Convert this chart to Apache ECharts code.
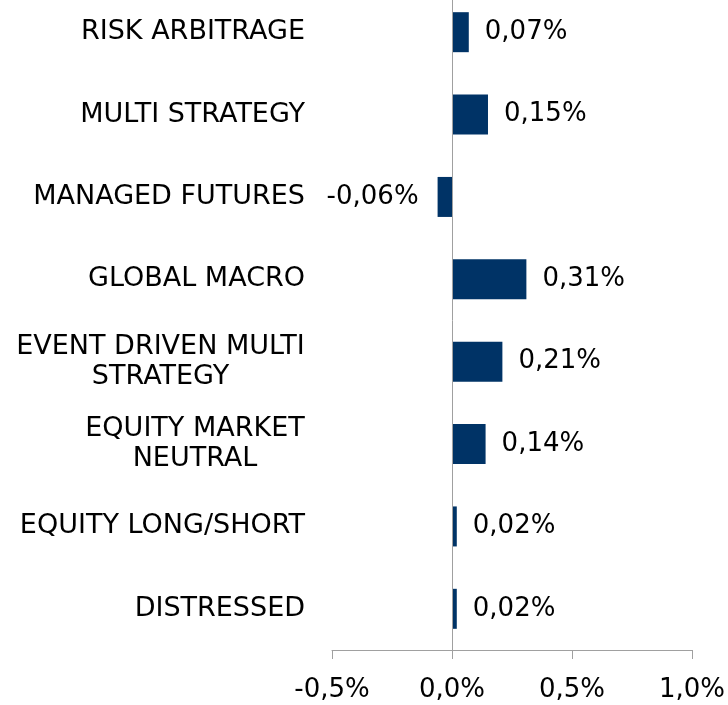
<!DOCTYPE html>
<html>
<head>
<meta charset="utf-8">
<script src="https://cdn.jsdelivr.net/npm/echarts@6/dist/echarts.min.js"></script>
<style>
  html, body { margin: 0; padding: 0; background: #fff; overflow: hidden; }
  /* the plot starts a little above the page edge, so the chart box is shifted up */
  #chart { width: 728px; height: 714px; margin-top: -9px; }
</style>
</head>
<body>
<div id="chart"></div>
<script>
// categories bottom -> top (category axis starts at the bottom)
const categories = [
  "DISTRESSED",
  "EQUITY LONG/SHORT",
  "EQUITY MARKET\nNEUTRAL",
  "EVENT DRIVEN MULTI\nSTRATEGY",
  "GLOBAL MACRO",
  "MANAGED FUTURES",
  "MULTI STRATEGY",
  "RISK ARBITRAGE"
];
const values = [0.02, 0.02, 0.14, 0.21, 0.31, -0.06, 0.15, 0.07];
const xTicks = [-0.5, 0.0, 0.5, 1.0];

const FONT = "DejaVu Sans";
const FS = 26;      // numbers
const FS_CAT = 27;  // category names

// two-line labels: second line centred under the first
const ctx = document.createElement("canvas").getContext("2d");
ctx.font = FS_CAT + "px '" + FONT + "'";
const rich = {};
categories.forEach((c, i) => {
  if (c.indexOf("\n") >= 0) {
    const w = Math.max(...c.split("\n").map(s => ctx.measureText(s).width));
    rich["c" + i] = { width: Math.ceil(w), align: "center", fontSize: FS_CAT, fontFamily: FONT, lineHeight: 30, color: "#000" };
  }
});

const pct = (v, d) => v.toFixed(d).replace(".", ",") + "%";

let myChart = echarts.init(document.getElementById("chart"));
myChart.setOption({
  animation: false,
  grid: { left: 332, right: 36, top: 0, bottom: 55 },
  xAxis: {
    type: "value",
    min: xTicks[0],
    max: xTicks[xTicks.length - 1],
    interval: 0.5,
    splitLine: { show: false },
    axisLine: { show: true, lineStyle: { color: "#a0a0a0", width: 1 } },
    axisTick: { show: true, length: 9, lineStyle: { color: "#a0a0a0" } },
    axisLabel: {
      color: "#000",
      fontFamily: FONT,
      fontSize: FS,
      margin: 27,
      formatter: v => pct(v, 1)
    }
  },
  yAxis: {
    type: "category",
    data: categories,
    axisLine: { show: false, onZero: false },
    axisTick: { show: false },
    axisLabel: {
      color: "#000",
      fontFamily: FONT,
      fontSize: FS_CAT,
      lineHeight: 30,
      margin: 27,
      rich: rich,
      formatter: (v, i) => {
        if (v.indexOf("\n") < 0) return v;
        const key = "c" + categories.indexOf(v);
        return v.split("\n").map(s => "{" + key + "|" + s + "}").join("\n");
      }
    }
  },
  series: [
    {
      type: "bar",
      barWidth: 40,
      itemStyle: { color: "#003366" },
      data: values.map(v => ({
        value: v,
        label: { position: v < 0 ? "left" : "right", distance: v < 0 ? 19 : 16 }
      })),
      label: {
        show: true,
        color: "#000",
        fontFamily: FONT,
        fontSize: FS,
        formatter: p => pct(p.value, 2)
      },
      markLine: {
        silent: true,
        symbol: "none",
        label: { show: false },
        lineStyle: { color: "#a0a0a0", width: 1, type: "solid" },
        data: [{ xAxis: 0 }]
      }
    }
  ]
});
</script>
</body>
</html>
